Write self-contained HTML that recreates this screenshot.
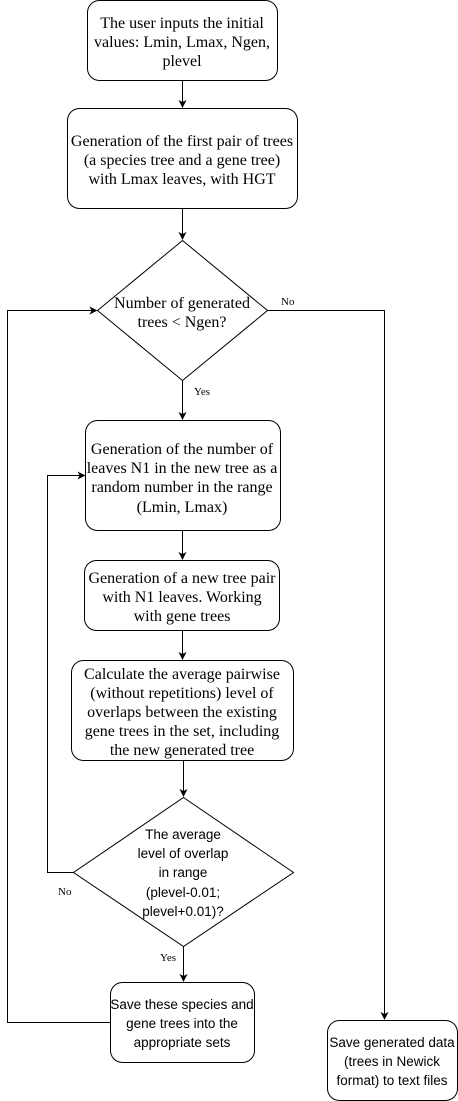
<!DOCTYPE html>
<html><head><meta charset="utf-8"><style>
html,body{margin:0;padding:0;background:#fff;width:458px;height:1101px;overflow:hidden}
svg{display:block}
.s{font-family:"Liberation Serif",serif;font-size:16px;fill:#000}
.a{font-family:"Liberation Sans",sans-serif;font-size:13.5px;fill:#000}
.l{font-family:"Liberation Serif",serif;font-size:11px;fill:#000}
</style></head><body>
<svg width="458" height="1101" viewBox="0 0 458 1101" xmlns="http://www.w3.org/2000/svg">
<defs><marker id="m" markerWidth="8" markerHeight="8" refX="7" refY="4" orient="auto" markerUnits="userSpaceOnUse"><path d="M0,0 L8,4 L0,8 L2,4 z" fill="#000"/></marker></defs>
<g fill="none" stroke="#000" stroke-width="1">
<rect x="87.5" y="0.5" width="190" height="80" rx="12"/>
<rect x="67.5" y="108.5" width="230" height="100" rx="12"/>
<polygon points="182.5,240.5 267.5,310.5 182.5,380.5 97.5,310.5"/>
<rect x="85.5" y="420.5" width="195" height="110" rx="12"/>
<rect x="84.5" y="560.5" width="195" height="70" rx="12"/>
<rect x="71.5" y="660.5" width="222" height="100" rx="12"/>
<polygon points="183.5,797.5 293.5,872.5 183.5,946.5 73.5,872.5"/>
<rect x="110.5" y="982.5" width="144" height="80" rx="12"/>
<rect x="327.5" y="1020.5" width="130" height="80" rx="12"/>
<line x1="182.5" y1="81" x2="182.5" y2="107" marker-end="url(#m)"/>
<line x1="182.5" y1="209" x2="182.5" y2="239" marker-end="url(#m)"/>
<line x1="182.5" y1="381" x2="182.5" y2="419" marker-end="url(#m)"/>
<line x1="182.5" y1="531" x2="182.5" y2="559" marker-end="url(#m)"/>
<line x1="182.5" y1="631" x2="182.5" y2="659" marker-end="url(#m)"/>
<line x1="183.5" y1="761" x2="183.5" y2="796" marker-end="url(#m)"/>
<line x1="183.5" y1="947" x2="183.5" y2="981" marker-end="url(#m)"/>
<polyline points="267.5,310.5 384.5,310.5 384.5,1019" marker-end="url(#m)"/>
<polyline points="110.5,1022.5 7.5,1022.5 7.5,310.5 96.5,310.5" marker-end="url(#m)"/>
<polyline points="73.5,872.5 47.5,872.5 47.5,475.5 84.5,475.5" marker-end="url(#m)"/>
</g>
<g class="s" text-anchor="middle">
<text x="182" y="28">The user inputs the initial</text>
<text x="182" y="47">values: Lmin, Lmax, Ngen,</text>
<text x="182" y="66">plevel</text>
<text x="182" y="146">Generation of the first pair of trees</text>
<text x="182" y="165">(a species tree and a gene tree)</text>
<text x="182" y="184">with Lmax leaves, with HGT</text>
<text x="182" y="308">Number of generated</text>
<text x="182" y="327">trees &lt; Ngen?</text>
<text x="182" y="454">Generation of the number of</text>
<text x="182" y="473">leaves N1 in the new tree as a</text>
<text x="182" y="492">random number in the range</text>
<text x="182" y="512">(Lmin, Lmax)</text>
<text x="182" y="583">Generation of a new tree pair</text>
<text x="182" y="602">with N1 leaves. Working</text>
<text x="182" y="621">with gene trees</text>
<text x="182" y="679">Calculate the average pairwise</text>
<text x="182" y="698">(without repetitions) level of</text>
<text x="182" y="717">overlaps between the existing</text>
<text x="182" y="736">gene trees in the set, including</text>
<text x="182" y="755">the new generated tree</text>
</g>
<g class="a" text-anchor="middle">
<text x="183" y="839">The average</text>
<text x="183" y="858">level of overlap</text>
<text x="183" y="877">in range</text>
<text x="183" y="897">(plevel-0.01;</text>
<text x="183" y="916">plevel+0.01)?</text>
<text x="182" y="1009">Save these species and</text>
<text x="182" y="1028">gene trees into the</text>
<text x="182" y="1047">appropriate sets</text>
<text x="392" y="1047">Save generated data</text>
<text x="392" y="1066">(trees in Newick</text>
<text x="392" y="1085">format) to text files</text>
</g>
<g class="l">
<text x="281" y="305">No</text>
<text x="194" y="395">Yes</text>
<text x="58" y="895">No</text>
<text x="160" y="961">Yes</text>
</g>
</svg>
</body></html>
